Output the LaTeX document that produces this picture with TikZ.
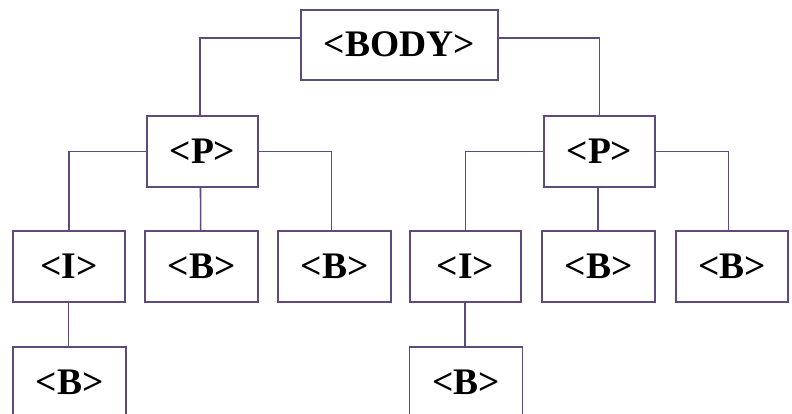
\documentclass[tikz,border=0pt]{standalone}
\usepackage{fontspec}
\setmainfont{Liberation Serif}
\definecolor{pur}{HTML}{604A7B}
\begin{document}
\begin{tikzpicture}[x=1pt,y=-1pt,
  box/.style={draw=pur, line width=1.6pt, fill=white, minimum height=71pt,
    inner sep=0pt, font=\bfseries\fontsize{37.5}{42}\selectfont,
    text height=24pt, text depth=0pt},
  link/.style={draw=pur, line width=1.6pt}]
\useasboundingbox (0,0) rectangle (792,414);
\clip (0,0) rectangle (792,414);
% nodes
\node[box, minimum width=197pt, minimum height=70pt] (body) at (399.5,45) {<BODY>};
\node[box, minimum width=111pt] (pL) at (202.5,151.5) {<P>};
\node[box, minimum width=111pt] (pR) at (599.5,151.5) {<P>};
\node[box, minimum width=112pt] (iL) at (69,266.5) {<I>};
\node[box, minimum width=113pt] (bL1) at (201.5,266.5) {<B>};
\node[box, minimum width=113pt] (bL2) at (334.5,266.5) {<B>};
\node[box, minimum width=111pt] (iR) at (465.5,266.5) {<I>};
\node[box, minimum width=113pt] (bR1) at (598.5,266.5) {<B>};
\node[box, minimum width=112pt] (bR2) at (732,266.5) {<B>};
\node[box, minimum width=113pt] (bbL) at (69.5,382.5) {<B>};
\node[box, minimum width=113pt] (bbR) at (466,382.5) {<B>};
% connectors
\draw[link] ([yshift=7pt]body.west) -| ([xshift=-2.5pt]pL.north);
\draw[link] ([yshift=7pt]body.east) -| (pR.north);
\draw[link] (pL.west) -| (iL.north);
\draw[link] (pL.east) -| ([xshift=-3pt]bL2.north);
\draw[link] ([xshift=-2pt]pL.south) -- ([xshift=-0.8pt]bL1.north);
\draw[link] (pR.west) -| (iR.north);
\draw[link] (pR.east) -| ([xshift=-3.7pt]bR2.north);
\draw[link] ([xshift=-1.5pt]pR.south) -- ([xshift=-0.5pt]bR1.north);
\draw[link] ([xshift=-0.7pt]iL.south) -- ([xshift=-1.2pt]bbL.north);
\draw[link] ([xshift=-0.5pt]iR.south) -- ([xshift=-1pt]bbR.north);
\end{tikzpicture}
\end{document}
